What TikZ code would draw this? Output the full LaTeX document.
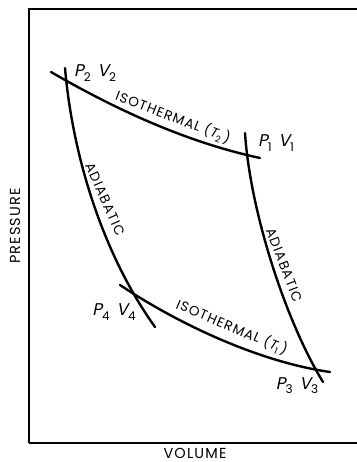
\documentclass[tikz,border=0pt]{standalone}
\usepackage{fontspec}
\setmainfont{Poppins}[LetterSpace=8]
\newfontfamily\slfont{Poppins}[FakeSlant=0.2]
\newcommand\pv[1]{{\slfont P}\raisebox{-0.45ex}{\fontsize{12}{12}\selectfont #1}\hspace{0.4em}{\slfont V}\raisebox{-0.45ex}{\fontsize{12}{12}\selectfont #1}}
\newcommand\tsub[1]{({\slfont T}\raisebox{-0.4ex}{\fontsize{9}{9}\selectfont #1}\,)}
\tikzset{
  curve/.style={line width=2.4pt, line cap=round},
  lbl/.style={inner sep=0pt, font=\fontsize{13.5}{13.5}\selectfont},
  axlbl/.style={inner sep=0pt, font=\fontsize{14.5}{14.5}\selectfont},
  pvlbl/.style={inner sep=0pt, font=\fontsize{17}{17}\selectfont},
}
\begin{document}
\begin{tikzpicture}[x=1pt,y=-1pt]
\useasboundingbox (0,0) rectangle (356,462);
\draw[line width=1.2pt] (29,443) -- (29,9) -- (360,9);
\draw[line width=1.2pt] (29,443) -- (360,443);
% upper isotherm
\draw[curve] (51,72) .. controls (120,112) and (190,143) .. (260,158);
% lower isotherm
\draw[curve] (120,285) .. controls (180,325) and (260,362) .. (330,372);
% left adiabat
\draw[curve] (65,68) .. controls (72,150) and (100,250) .. (155,327);
% right adiabat
\draw[curve] (245,133) .. controls (250,210) and (285,320) .. (323,382);
% labels
\node[pvlbl] (p2) at (95,73) {\pv{2}};
\node[pvlbl] (p1) at (276,143) {\pv{1}};
\node[pvlbl] (p4) at (114,312) {\pv{4}};
\node[pvlbl] (p3) at (297,386) {\pv{3}};
\node[lbl, rotate=-21] (iso2) at (173,117) {ISOTHERMAL \tsub{2}};
\node[lbl, rotate=-23] (iso1) at (232,327) {ISOTHERMAL \tsub{1}};
\node[lbl, rotate=-66] (ad1) at (105,199) {ADIABATIC};
\node[lbl, rotate=-69] (ad2) at (284,265) {ADIABATIC};
\node[axlbl, rotate=90] (pr) at (15,226) {PRESSURE};
\node[axlbl, anchor=base] (vol) at (195,458.5) {VOLUME};
\end{tikzpicture}
\end{document}
